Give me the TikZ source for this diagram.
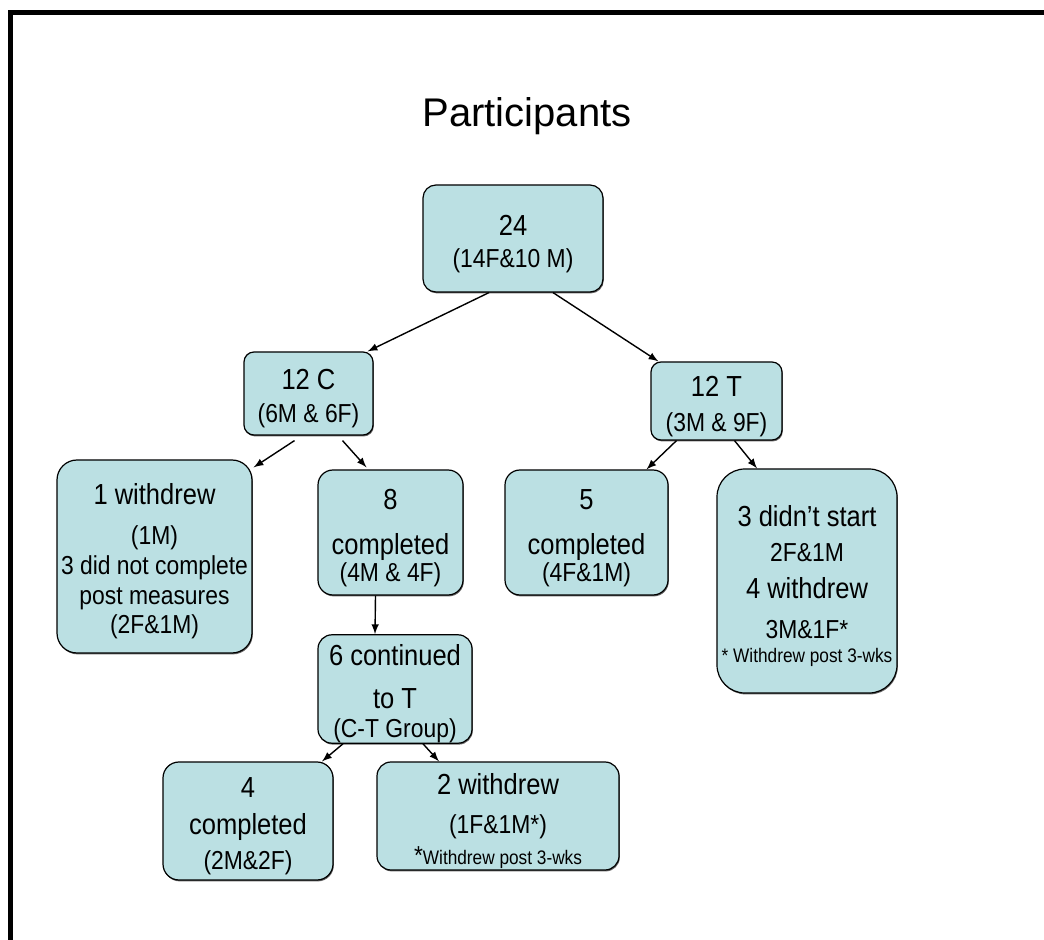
\documentclass[tikz,border=0pt]{standalone}
\usepackage{fontspec}
\setmainfont{Liberation Sans}
\newfontfamily\boxfont{Liberation Sans}[FakeStretch=0.88]
\usetikzlibrary{shadows}

\definecolor{boxfill}{RGB}{187,224,227}
% first line: a little extra room on top, as in the slide
\newcommand{\bigtxt}{\fontsize{14.5}{16}\selectfont}
\newcommand{\toptxt}{\fontsize{14.5}{16}\selectfont\rule{0pt}{15.5pt}}
\newcommand{\smtxt}{\fontsize{13}{16}\selectfont}
\newcommand{\notetxt}{\fontsize{9.8}{16}\selectfont}

\begin{document}
\begin{tikzpicture}[x=0.5pt, y=-0.5pt,
						pbox/.style={rectangle, draw, fill=boxfill, align=center,
							inner sep=0pt, line width=0.6pt,
							font=\boxfont\fontsize{13}{16}\selectfont,
							drop shadow={shadow xshift=0.4pt, shadow yshift=-0.7pt, opacity=0.6, fill=black}},
						every path/.style={>=latex}]
					\useasboundingbox (0,0) rectangle (1044,940);
					\draw[line width=2.5pt] (1044,12.5) -| (10.5,940);

					\node (title) at (527,116) {\fontsize{20}{24}\selectfont Participants};

					\node[pbox, rounded corners=6.5pt, minimum width=90pt, minimum height=53.5pt] (root) at (513,238.5)
						{\toptxt 24\\ \smtxt (14F\&10 M)};
					\node[pbox, rounded corners=5pt, minimum width=64.5pt, minimum height=41.5pt] (c12) at (308.5,393.5)
						{\toptxt 12 C\\[0.5pt] \smtxt (6M \& 6F)};
					\node[pbox, rounded corners=5pt, minimum width=65.5pt, minimum height=39pt] (t12) at (716.5,401)
						{\toptxt 12 T\\[1.5pt] \smtxt (3M \& 9F)};

					\node[pbox, rounded corners=10pt, minimum width=97.5pt, minimum height=96.5pt] (with1) at (154.5,556.5)
						{\toptxt 1 withdrew\\[4pt] \smtxt (1M)\\[-1pt] \smtxt 3 did not complete\\[-1pt] \smtxt post measures\\[-1.5pt] \smtxt (2F\&1M)};
					\node[pbox, rounded corners=7.5pt, minimum width=72.5pt, minimum height=62.5pt] (comp8) at (390.5,532.5)
						{\toptxt 8\\[6.5pt] \bigtxt completed\\[-2.5pt] \smtxt (4M \& 4F)};
					\node[pbox, rounded corners=7.5pt, minimum width=81.5pt, minimum height=62.5pt] (comp5) at (586.5,532.5)
						{\toptxt 5\\[6.5pt] \bigtxt completed\\[-2.5pt] \smtxt (4F\&1M)};
					\node[pbox, rounded corners=14pt, minimum width=90pt, minimum height=112pt] (start3) at (807,581)
						{\toptxt 3 didn’t start\\[1.5pt] \smtxt 2F\&1M\\[2.5pt] \bigtxt 4 withdrew\\[4pt] \smtxt 3M\&1F*\\[-4pt] \notetxt * Withdrew post 3-wks};

					\node[pbox, rounded corners=7pt, minimum width=77pt, minimum height=54pt] (cont6) at (395,689)
						{\toptxt 6 continued\\[5.5pt] \bigtxt to T\\[-1.5pt] \smtxt (C-T Group)};
					\node[pbox, rounded corners=8pt, minimum width=85pt, minimum height=59pt] (comp4) at (248,821)
						{\toptxt 4\\[2.5pt] \bigtxt completed\\[1.5pt] \smtxt (2M\&2F)};
					\node[pbox, rounded corners=7pt, minimum width=121pt, minimum height=54pt] (with2) at (498,816)
						{\toptxt 2 withdrew\\[3.5pt] \smtxt (1F\&1M*)\\[-0.5pt] \smtxt *\notetxt Withdrew post 3-wks};

					\path [->, line width=0.7pt] ([xshift=-12pt]root.south) edge ([xshift=-3pt]c12.north east);
					\path [->, line width=0.7pt] ([xshift=20pt]root.south) edge ([xshift=4pt]t12.north west);
					\path [->, line width=0.7pt] ([xshift=-7pt,yshift=-2.5pt]c12.south) edge ([xshift=0.5pt,yshift=-4pt]with1.north east);
					\path [->, line width=0.7pt] ([xshift=17pt,yshift=-2.5pt]c12.south) edge ([xshift=-12pt,yshift=1pt]comp8.north);
					\path [->, line width=0.7pt] ([xshift=-20pt]t12.south) edge ([xshift=30pt]comp5.north);
					\path [->, line width=0.7pt] ([xshift=9pt]t12.south) edge ([xshift=-25pt]start3.north);
					\path [->, line width=0.7pt] ([xshift=-7.5pt]comp8.south) edge ([xshift=-10pt]cont6.north);
					\path [->, line width=0.7pt] ([xshift=-26pt]cont6.south) edge ([xshift=37pt]comp4.north);
					\path [->, line width=0.7pt] ([xshift=14pt]cont6.south) edge ([xshift=-29.5pt]with2.north);
				\end{tikzpicture}
\end{document}
